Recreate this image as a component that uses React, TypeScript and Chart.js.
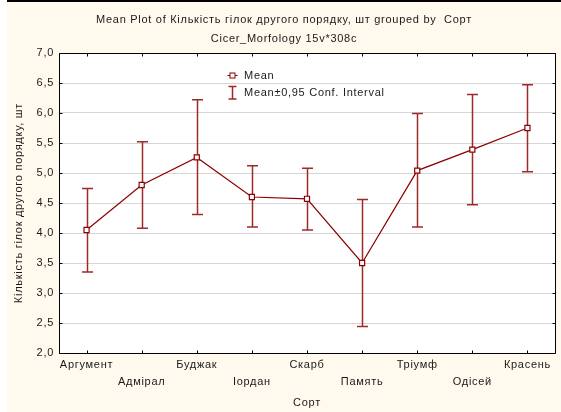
import React, { useEffect, useRef } from 'react';
import { Chart, registerables } from 'chart.js';

Chart.register(...registerables);

const categories = ['Аргумент', 'Адмірал', 'Буджак', 'Іордан', 'Скарб', 'Память', 'Тріумф', 'Одісей', 'Красень'];
const means = [4.05, 4.8, 5.26, 4.6, 4.57, 3.5, 5.04, 5.39, 5.75];
const upperCI = [4.74, 5.52, 6.22, 5.12, 5.08, 4.56, 5.99, 6.31, 6.47];
const lowerCI = [3.35, 4.08, 4.31, 4.1, 4.05, 2.44, 4.1, 4.47, 5.02];
const yMin = 2;
const yMax = 7;
const yStep = 0.5;
const titleLines = ['Mean Plot of Кількість гілок другого порядку, шт grouped by  Сорт', 'Cicer_Morfology 15v*308c'];
const xTitle = 'Сорт';
const yTitle = 'Кількість гілок другого порядку, шт';
const legendLabels = ['Mean', 'Mean±0,95 Conf. Interval'];

const FONT_FAMILY = '"Liberation Sans", Arial, sans-serif';
const FONT = '11px ' + FONT_FAMILY;
const LETTER_SPACING = '0.72px';
const LINE_COLOR = '#8b0000';
const ERR_COLOR = '#9e2a2a';
const TEXT_COLOR = '#1a1a1a';
const CREAM = '#fff9ee';

const decoPlugin = {
  id: 'deco',
  beforeInit(chart: any) {
    chart.ctx.letterSpacing = LETTER_SPACING;
  },
  beforeUpdate(chart: any) {
    chart.ctx.letterSpacing = LETTER_SPACING;
  },
  beforeDraw(chart: any) {
    const { ctx, chartArea: a } = chart;
    ctx.letterSpacing = LETTER_SPACING;
    ctx.save();
    ctx.fillStyle = '#ffffff';
    ctx.fillRect(a.left, a.top, a.right - a.left, a.bottom - a.top);
    ctx.restore();
  },
  beforeDatasetsDraw(chart: any) {
    const { ctx } = chart;
    const xs = chart.scales.x;
    const ys = chart.scales.y;
    ctx.save();
    ctx.strokeStyle = ERR_COLOR;
    ctx.lineWidth = 1.5;
    for (let i = 0; i < categories.length; i++) {
      const x = Math.round(xs.getPixelForValue(i)) + 0.5;
      const yu = ys.getPixelForValue(upperCI[i]);
      const yl = ys.getPixelForValue(lowerCI[i]);
      ctx.beginPath();
      ctx.moveTo(x, yu);
      ctx.lineTo(x, yl);
      ctx.moveTo(x - 5.5, yu);
      ctx.lineTo(x + 5.5, yu);
      ctx.moveTo(x - 5.5, yl);
      ctx.lineTo(x + 5.5, yl);
      ctx.stroke();
    }
    ctx.restore();
  },
  afterDraw(chart: any) {
    const { ctx, chartArea: a } = chart;
    const xs = chart.scales.x;
    const ys = chart.scales.y;
    const L = Math.round(a.left) + 0.5;
    const R = Math.round(a.right) + 0.5;
    const T = Math.round(a.top) + 0.5;
    const B = Math.round(a.bottom) + 0.5;
    ctx.save();
    ctx.letterSpacing = LETTER_SPACING;
    // frame
    ctx.strokeStyle = '#000';
    ctx.lineWidth = 1;
    ctx.beginPath();
    ctx.rect(L, T, R - L, B - T);
    ctx.stroke();
    // ticks
    ctx.beginPath();
    for (let v = yMin; v <= yMax + 1e-9; v += yStep) {
      const y = Math.round(ys.getPixelForValue(v)) + 0.5;
      ctx.moveTo(L, y);
      ctx.lineTo(L + 3, y);
      ctx.moveTo(R, y);
      ctx.lineTo(R - 3, y);
    }
    for (let i = 0; i < categories.length; i++) {
      const x = Math.round(xs.getPixelForValue(i)) + 0.5;
      ctx.moveTo(x, B);
      ctx.lineTo(x, B - 3);
      ctx.moveTo(x, T);
      ctx.lineTo(x, T + 3);
    }
    ctx.stroke();

    // titles
    ctx.fillStyle = TEXT_COLOR;
    ctx.font = FONT;
    ctx.textAlign = 'center';
    ctx.textBaseline = 'middle';
    const cw = chart.width;
    ctx.fillText(titleLines[0], cw / 2, 17.5);
    ctx.fillText(titleLines[1], cw / 2, 36.5);
    // x title
    ctx.fillText(xTitle, (a.left + a.right) / 2, 401);
    // y title
    ctx.save();
    ctx.translate(12, (a.top + a.bottom) / 2);
    ctx.rotate(-Math.PI / 2);
    ctx.fillText(yTitle, 0, 0);
    ctx.restore();

    // legend
    const lx = 225.5;
    const ly1 = 73.5;
    ctx.strokeStyle = LINE_COLOR;
    ctx.lineWidth = 1;
    ctx.beginPath();
    ctx.moveTo(lx - 5, ly1);
    ctx.lineTo(lx + 5, ly1);
    ctx.stroke();
    ctx.fillStyle = '#ffffff';
    ctx.fillRect(lx - 2.5, ly1 - 2.5, 5, 5);
    ctx.strokeRect(lx - 2.5, ly1 - 2.5, 5, 5);
    ctx.strokeStyle = ERR_COLOR;
    ctx.lineWidth = 1.5;
    ctx.beginPath();
    ctx.moveTo(lx, 84.5);
    ctx.lineTo(lx, 97);
    ctx.moveTo(lx - 4, 84.5);
    ctx.lineTo(lx + 4, 84.5);
    ctx.moveTo(lx - 4, 97);
    ctx.lineTo(lx + 4, 97);
    ctx.stroke();
    ctx.fillStyle = TEXT_COLOR;
    ctx.textAlign = 'left';
    ctx.fillText(legendLabels[0], 237, 73.5);
    ctx.fillText(legendLabels[1], 237, 91);
    ctx.restore();
  },
};

export default function App() {
  const canvasRef = useRef<HTMLCanvasElement | null>(null);

  useEffect(() => {
    const canvas = canvasRef.current;
    if (!canvas) return;
    const chart = new Chart(canvas, {
      type: 'line',
      data: {
        labels: categories,
        datasets: [
          {
            label: legendLabels[0],
            data: means,
            borderColor: LINE_COLOR,
            borderWidth: 1.2,
            backgroundColor: '#ffffff',
            pointStyle: 'rect',
            pointRadius: 3.6,
            pointBorderWidth: 1.2,
            pointBorderColor: LINE_COLOR,
            pointBackgroundColor: '#ffffff',
            tension: 0,
            fill: false,
          },
        ],
      },
      options: {
        responsive: false,
        animation: false,
        devicePixelRatio: 1,
        layout: { padding: { top: 51, right: 6, bottom: 0, left: 0 } },
        plugins: {
          legend: { display: false },
          title: { display: false },
          tooltip: { enabled: false },
        },
        scales: {
          x: {
            type: 'category',
            offset: true,
            grid: { display: false, drawTicks: false },
            border: { display: false },
            ticks: {
              autoSkip: false,
              maxRotation: 0,
              minRotation: 0,
              padding: 3,
              color: TEXT_COLOR,
              font: { family: FONT_FAMILY, size: 11, lineHeight: '17px' } as any,
              callback: (_v: any, i: number) => (i % 2 === 0 ? [categories[i]] : ['', categories[i]]),
            },
            afterFit: (s: any) => {
              s.height = 59;
              s.paddingLeft = 0;
              s.paddingRight = 0;
              s.paddingTop = 0;
              s.paddingBottom = 0;
            },
          },
          y: {
            min: yMin,
            max: yMax,
            grid: { color: '#d6d6d6', lineWidth: 1, drawTicks: false },
            border: { display: false },
            ticks: {
              stepSize: yStep,
              padding: 5,
              color: TEXT_COLOR,
              font: { family: FONT_FAMILY, size: 11 },
              callback: (v: any) => Number(v).toFixed(1).replace('.', ','),
            },
            afterFit: (s: any) => {
              s.width = 52;
              s.paddingLeft = 0;
              s.paddingRight = 0;
              s.paddingTop = 0;
              s.paddingBottom = 0;
            },
          },
        },
      },
      plugins: [decoPlugin],
    });
    return () => chart.destroy();
  }, []);

  return (
    <div style={{ position: 'absolute', left: 0, top: 0, width: 561, height: 412, background: '#ffffff', overflow: 'hidden' }}>
      <div
        style={{
          position: 'absolute',
          left: 7,
          top: 0,
          width: 554,
          height: 412,
          background: CREAM,
          borderTop: '2px solid #000',
          boxSizing: 'border-box',
        }}
      >
        <canvas ref={canvasRef} width={554} height={410} style={{ display: 'block', width: 554, height: 410 }} />
      </div>
    </div>
  );
}
